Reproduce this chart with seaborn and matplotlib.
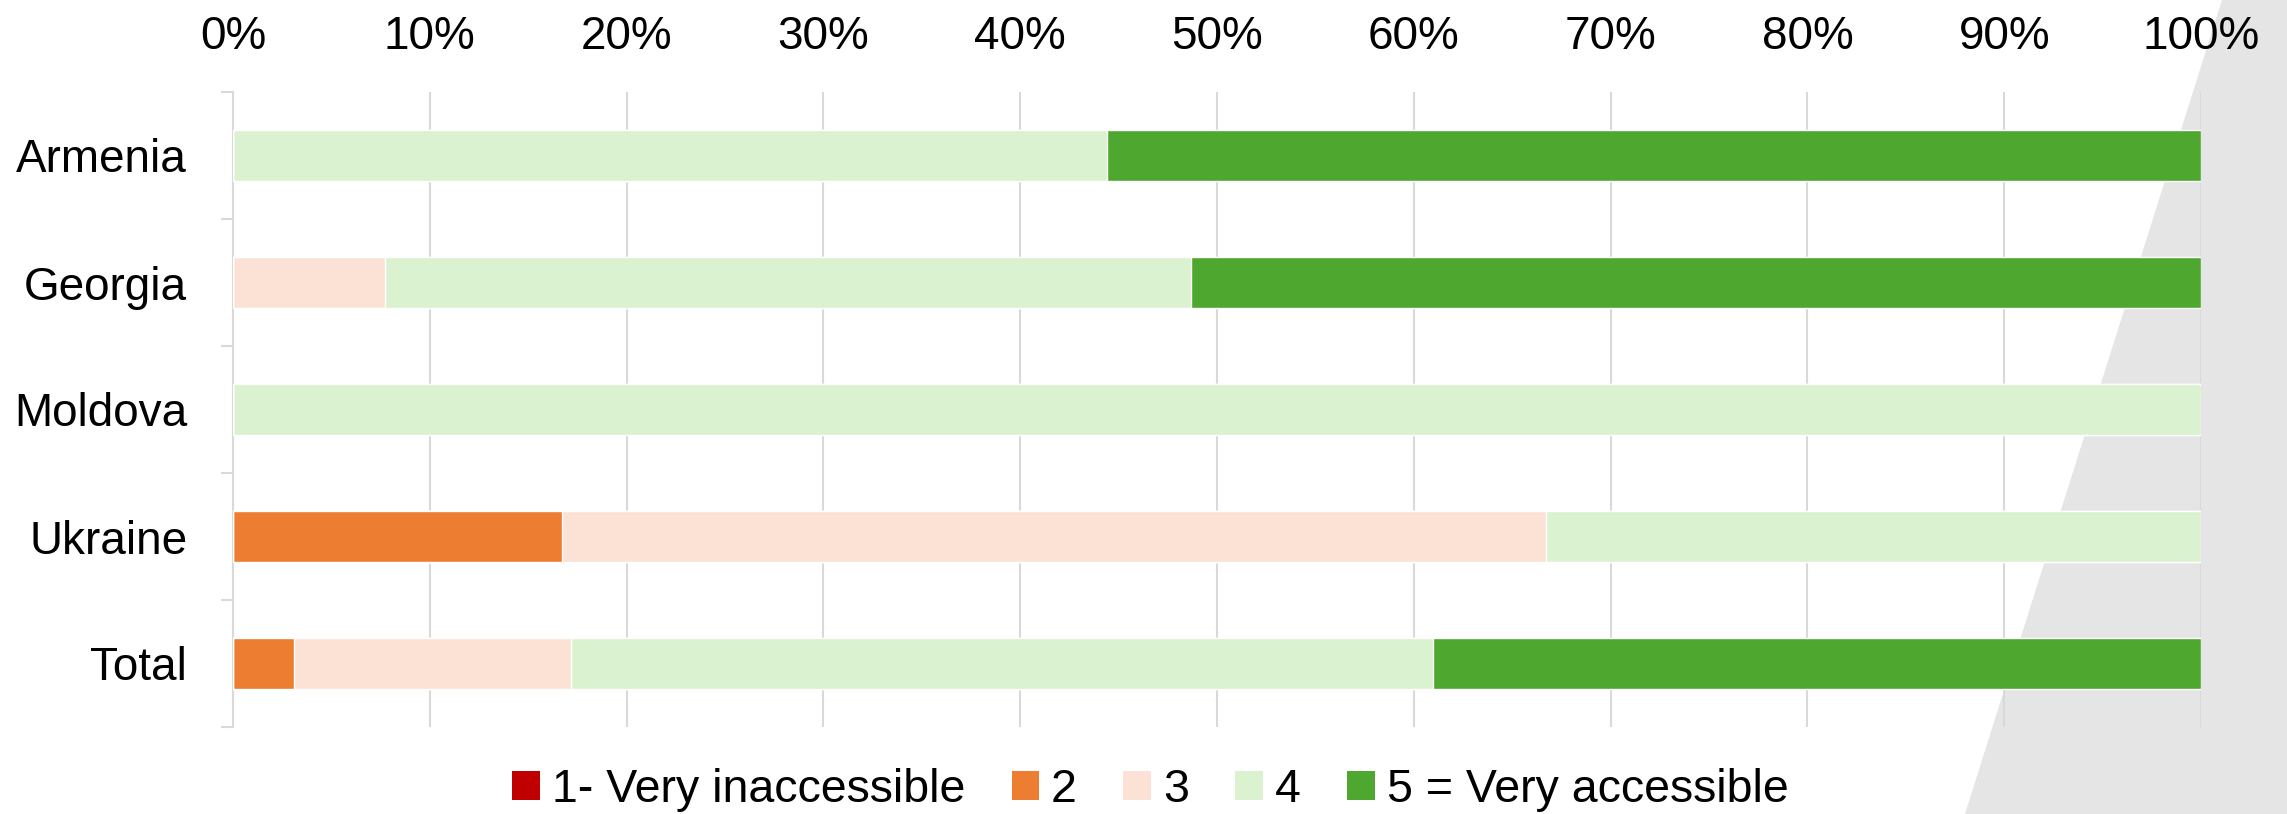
import matplotlib
matplotlib.use("Agg")
import matplotlib.pyplot as plt
from matplotlib.patches import Patch, Polygon
import numpy as np
import seaborn as sns

# === Data (share of respondents, %) ===
countries = ["Armenia", "Georgia", "Moldova", "Ukraine", "Total"]
levels = ["1- Very inaccessible", "2", "3", "4", "5 = Very accessible"]
very_inaccessible = [0.0, 0.0, 0.0, 0.0, 0.0]
level_2 = [0.0, 0.0, 0.0, 16.7, 3.1]
level_3 = [0.0, 7.7, 0.0, 50.0, 14.1]
level_4 = [44.4, 41.0, 100.0, 33.3, 43.8]
very_accessible = [55.6, 51.3, 0.0, 0.0, 39.0]
colors = ["#C00000", "#ED7D31", "#FBE2D5", "#DAF2D0", "#4EA72E"]

sns.set_theme(style="white")
plt.rcParams["font.family"] = ["Liberation Sans", "DejaVu Sans"]
plt.rcParams["text.color"] = "black"

fig = plt.figure(figsize=(22.87, 8.14), dpi=100)
ax = fig.add_axes([233 / 2287, 87 / 814, (2201 - 233) / 2287, (727 - 92) / 814])
ax.set_facecolor("none")

# decorative grey shape in the lower right corner
fig.add_artist(Polygon([(1965 / 2287, 0), (2222 / 2287, 1), (1, 1), (1, 0)],
                       closed=True, transform=fig.transFigure,
                       facecolor="#E5E5E5", edgecolor="none", zorder=-1))

# === Stacked bars: draw cumulative sums, widest first ===
series = [very_inaccessible, level_2, level_3, level_4, very_accessible]
cum = np.cumsum(np.array(series), axis=0)
for i in range(len(series) - 1, -1, -1):
    sns.barplot(x=cum[i], y=countries, orient="h", color=colors[i],
                saturation=1, width=0.4, errorbar=None, ax=ax, zorder=3)

ax.set_xlim(0, 100)
ax.set_ylim(4.5, -0.5)
ax.set_xticks(range(0, 101, 10))
ax.set_xticklabels([f"{t}%" for t in range(0, 101, 10)])
ax.xaxis.tick_top()
ax.set_xlabel("")
ax.set_ylabel("")
ax.grid(axis="x", color="#D9D9D9", linewidth=1.5, zorder=0)
ax.set_axisbelow(True)

for s in ["top", "right", "bottom"]:
    ax.spines[s].set_visible(False)
ax.spines["left"].set_color("#D9D9D9")
ax.spines["left"].set_linewidth(1.5)

ax.set_yticks(np.arange(-0.5, 5, 1), minor=True)
ax.tick_params(axis="x", length=0, pad=24, labelsize=33, colors="black")
ax.tick_params(axis="y", which="major", length=0, pad=33, labelsize=33, colors="black")
ax.tick_params(axis="y", which="minor", left=True, length=9, width=1.5, color="#D9D9D9")

handles = [Patch(facecolor=c, edgecolor="none") for c in colors]
fig.legend(handles, levels, loc="center", bbox_to_anchor=(0.503, 24 / 814),
           ncol=5, frameon=False, fontsize=33.5, handlelength=0.6, handleheight=0.6,
           handletextpad=0.25, columnspacing=1.0)

fig.savefig("out.png", dpi=100)
